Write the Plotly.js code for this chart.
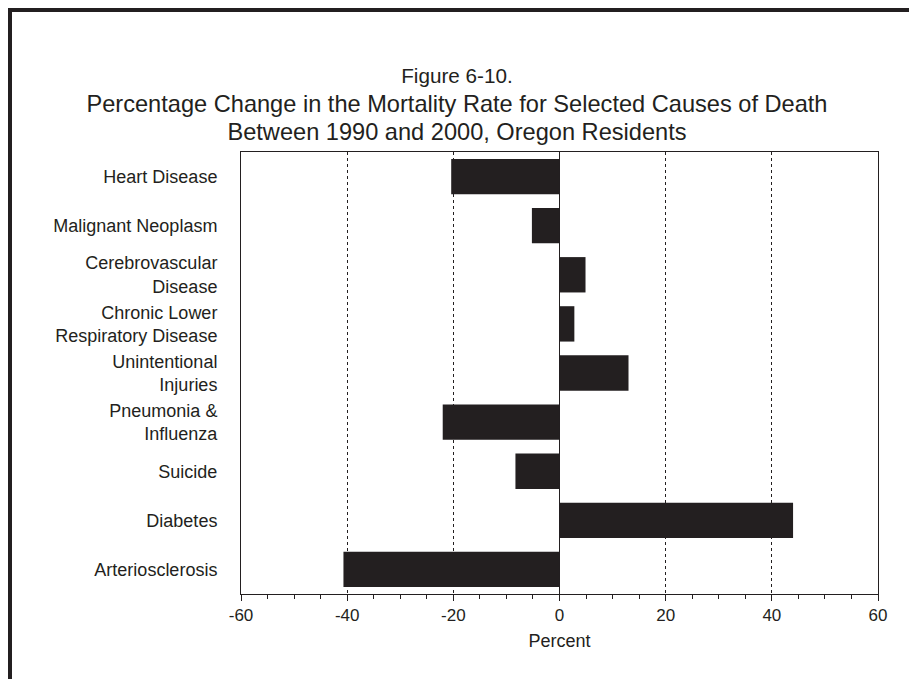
<!DOCTYPE html>
<html>
<head>
<meta charset="utf-8">
<script src="https://cdn.plot.ly/plotly-3.0.1.min.js"></script>
<style>
html,body{margin:0;padding:0;background:#fff;}
#chart{width:909px;height:679px;}
</style>
</head>
<body>
<div id="chart"></div>
<script>
const categories = [
  "Heart Disease",
  "Malignant Neoplasm",
  "Cerebrovascular<br>Disease",
  "Chronic Lower<br>Respiratory Disease",
  "Unintentional<br>Injuries",
  "Pneumonia &amp;<br>Influenza",
  "Suicide",
  "Diabetes",
  "Arteriosclerosis"
];
const percentChange = [-20.4, -5.2, 4.9, 2.8, 13.0, -22.0, -8.3, 44.0, -40.7];
const xTickValues = [-60, -40, -20, 0, 20, 40, 60];
const xTickLabels = ["-60", "-40", "-20", "0", "20", "40", "60"];
const titleLines = [
  "Figure 6-10.",
  "Percentage Change in the Mortality Rate for Selected Causes of Death",
  "Between 1990 and 2000, Oregon Residents"
];

const INK = "#231f20";
const FONT = "Liberation Sans, Arial, sans-serif";

// plot area in pixels: left 241, right 878, top 152, bottom 594
const L = 241, R = 878, T = 152, B = 594;
const px2x = p => (p - L) / (R - L);
const py2y = p => (B - p) / (B - T);

const trace = {
  type: "bar",
  orientation: "h",
  y: categories,
  x: percentChange,
  marker: {color: INK, line: {width: 0}},
  hoverinfo: "x+y"
};

const titleText =
  '<span style="font-size:20.7px">' + titleLines[0] + '</span><br>' +
  '<span style="font-size:23.6px">' + titleLines[1] + '</span><br>' +
  '<span style="font-size:23.6px">' + titleLines[2] + '</span>';

const layout = {
  width: 909,
  height: 679,
  margin: {l: L, r: 909 - R, t: T, b: 679 - B, pad: 0},
  paper_bgcolor: "#ffffff",
  plot_bgcolor: "#ffffff",
  showlegend: false,
  bargap: 0.28,
  font: {family: FONT, color: INK},
  title: {
    text: titleText,
    font: {family: FONT, size: 22, color: INK},
    x: 457 / 909,
    xanchor: "center",
    xref: "container",
    y: 1 - 83 / 679,
    yref: "container",
    yanchor: "top"
  },
  xaxis: {
    range: [-60, 60],
    tickmode: "array",
    tickvals: xTickValues,
    ticktext: xTickLabels,
    ticks: "outside",
    ticklen: 6,
    tickwidth: 1,
    tickcolor: INK,
    tickfont: {family: FONT, size: 17, color: INK},
    minor: {dtick: 5, tick0: 0, ticks: "outside", ticklen: 4, tickwidth: 1, tickcolor: INK, showgrid: false},
    showgrid: true,
    gridcolor: INK,
    gridwidth: 1,
    griddash: "dot",
    zeroline: true,
    zerolinecolor: INK,
    zerolinewidth: 1.5,
    showline: true,
    linecolor: INK,
    linewidth: 1,
    mirror: true,
    title: {text: "Percent", font: {family: FONT, size: 18, color: INK}, standoff: 9},
    fixedrange: true
  },
  yaxis: {
    type: "category",
    range: [8.5, -0.5],
    ticks: "",
    showgrid: false,
    zeroline: false,
    showline: true,
    linecolor: INK,
    linewidth: 1,
    mirror: true,
    tickfont: {family: FONT, size: 18, color: INK},
    ticklabelstandoff: 19,
    fixedrange: true
  },
  shapes: [
    {
      type: "path",
      xref: "paper",
      yref: "paper",
      path: "M " + px2x(10) + "," + py2y(700) + " L " + px2x(10) + "," + py2y(10) + " L " + px2x(930) + "," + py2y(10),
      line: {color: INK, width: 4},
      layer: "above"
    }
  ]
};

Plotly.newPlot("chart", [trace], layout, {displayModeBar: false, staticPlot: true});
</script>
</body>
</html>
